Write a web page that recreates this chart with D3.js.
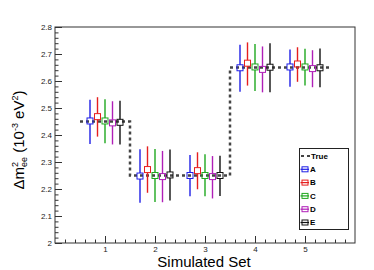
<!DOCTYPE html>
<html>
<head>
<meta charset="utf-8">
<script src="https://cdn.jsdelivr.net/npm/d3@7"></script>
<style>
  body { margin: 0; background: #fff; }
  svg { font-family: "Liberation Sans", Arial, sans-serif; }
</style>
</head>
<body>
<div id="chart"></div>
<script>
// data
var sets = [1, 2, 3, 4, 5];
var trueSteps = [[0.5, 1.5, 2.45], [1.5, 3.5, 2.25], [3.5, 5.5, 2.65]];
var seriesNames = ["A", "B", "C", "D", "E"];

var valA = [2.452, 2.248, 2.250, 2.649, 2.652];
var upA  = [2.531, 2.347, 2.326, 2.734, 2.717];
var lowA = [2.367, 2.149, 2.173, 2.560, 2.579];

var valB = [2.468, 2.272, 2.268, 2.666, 2.663];
var upB  = [2.540, 2.358, 2.336, 2.743, 2.725];
var lowB = [2.394, 2.186, 2.199, 2.583, 2.597];

var valC = [2.452, 2.250, 2.250, 2.652, 2.652];
var upC  = [2.532, 2.348, 2.329, 2.737, 2.719];
var lowC = [2.369, 2.152, 2.173, 2.563, 2.583];

var valD = [2.445, 2.246, 2.246, 2.643, 2.646];
var upD  = [2.525, 2.341, 2.322, 2.728, 2.714];
var lowD = [2.365, 2.151, 2.165, 2.558, 2.577];

var valE = [2.447, 2.252, 2.250, 2.651, 2.649];
var upE  = [2.527, 2.346, 2.323, 2.740, 2.720];
var lowE = [2.365, 2.157, 2.174, 2.558, 2.577];

var yTicks = [2, 2.1, 2.2, 2.3, 2.4, 2.5, 2.6, 2.7, 2.8];
var yTickLabels = ["2", "2.1", "2.2", "2.3", "2.4", "2.5", "2.6", "2.7", "2.8"];
var xTickLabels = ["1", "2", "3", "4", "5"];

// styles
var colors = ["#1f1fe6", "#e61f1f", "#1fa81f", "#b01fb8", "#111111"];
var offsets = [-0.3, -0.15, 0, 0.15, 0.3];

var series = [
  {name: "A", val: valA, up: upA, low: lowA},
  {name: "B", val: valB, up: upB, low: lowB},
  {name: "C", val: valC, up: upC, low: lowC},
  {name: "D", val: valD, up: upD, low: lowD},
  {name: "E", val: valE, up: upE, low: lowE}
];

var W = 374, H = 270;
var plotL = 55, plotR = 355, plotT = 27, plotB = 243;

var svg = d3.select("#chart").append("svg")
    .attr("width", W)
    .attr("height", H);

var x = d3.scaleLinear().domain([0, 6]).range([plotL, plotR]);
var y = d3.scaleLinear().domain([2, 2.8]).range([plotB, plotT]);

// minor ticks
var yMinor = d3.range(2, 2.8001, 0.02).filter(function(v) {
  return Math.abs(v * 10 - Math.round(v * 10)) > 1e-6;
});
var xMinor = d3.range(0.2, 5.9, 0.2).filter(function(v) {
  return Math.abs(v - Math.round(v)) > 1e-6;
});

svg.append("g")
    .attr("transform", "translate(" + plotL + ",0)")
    .call(d3.axisLeft(y).tickValues(yMinor).tickSize(-3.5).tickSizeOuter(0).tickFormat(""))
    .call(function(g) { g.select(".domain").remove(); });

svg.append("g")
    .attr("transform", "translate(0," + plotB + ")")
    .call(d3.axisBottom(x).tickValues(xMinor).tickSize(-3.5).tickSizeOuter(0).tickFormat(""))
    .call(function(g) { g.select(".domain").remove(); });

svg.append("g")
    .attr("transform", "translate(" + plotL + ",0)")
    .call(d3.axisLeft(y).tickValues(yTicks).tickSize(-7).tickSizeOuter(0).tickPadding(3)
      .tickFormat(function(d, i) { return yTickLabels[i]; }))
    .call(function(g) {
      g.select(".domain").remove();
      g.selectAll("text").style("font-size", "8px").attr("fill", "#222");
    });

svg.append("g")
    .attr("transform", "translate(0," + plotB + ")")
    .call(d3.axisBottom(x).tickValues(sets).tickSize(-7).tickSizeOuter(0).tickPadding(3)
      .tickFormat(function(d, i) { return xTickLabels[i]; }))
    .call(function(g) {
      g.select(".domain").remove();
      g.selectAll("text").style("font-size", "8px").attr("fill", "#222");
    });

svg.selectAll(".tick line").attr("stroke", "#333");

// frame
svg.append("rect")
    .attr("x", plotL).attr("y", plotT)
    .attr("width", plotR - plotL).attr("height", plotB - plotT)
    .attr("fill", "none").attr("stroke", "#333").attr("stroke-width", 1);

// true value line
var truePts = [];
trueSteps.forEach(function(s) {
  truePts.push([s[0], s[2]]);
  truePts.push([s[1], s[2]]);
});
svg.append("path")
    .attr("d", d3.line().x(function(d) { return x(d[0]); }).y(function(d) { return y(d[1]); })(truePts))
    .attr("fill", "none")
    .attr("stroke", "#444")
    .attr("stroke-width", 2.5)
    .attr("stroke-dasharray", "3,3");

// error bars and markers
var half = 3;
series.forEach(function(s, si) {
  var g = svg.append("g");
  var pts = sets.map(function(set, i) {
    return {x: x(set + offsets[si]), v: y(s.val[i]), up: y(s.up[i]), low: y(s.low[i])};
  });
  g.selectAll("line.up").data(pts).enter().append("line")
      .attr("x1", function(d) { return d.x; }).attr("x2", function(d) { return d.x; })
      .attr("y1", function(d) { return d.up; }).attr("y2", function(d) { return d.v - half; })
      .attr("stroke", colors[si]).attr("stroke-width", 1.4);
  g.selectAll("line.low").data(pts).enter().append("line")
      .attr("x1", function(d) { return d.x; }).attr("x2", function(d) { return d.x; })
      .attr("y1", function(d) { return d.v + half; }).attr("y2", function(d) { return d.low; })
      .attr("stroke", colors[si]).attr("stroke-width", 1.4);
  g.selectAll("rect").data(pts).enter().append("rect")
      .attr("x", function(d) { return d.x - half; })
      .attr("y", function(d) { return d.v - half; })
      .attr("width", half * 2).attr("height", half * 2)
      .attr("fill", "none").attr("stroke", colors[si]).attr("stroke-width", 1);
});

// legend
var lg = svg.append("g");
lg.append("rect")
    .attr("x", 299.5).attr("y", 148.5).attr("width", 49).attr("height", 81)
    .attr("fill", "#fff").attr("stroke", "#222").attr("stroke-width", 1);

var legendY = function(i) { return 156 + i * 13.3; };
lg.append("line")
    .attr("x1", 301).attr("x2", 310).attr("y1", legendY(0)).attr("y2", legendY(0))
    .attr("stroke", "#444").attr("stroke-width", 2).attr("stroke-dasharray", "3,3");
lg.append("text")
    .attr("x", 311).attr("y", legendY(0)).attr("dy", "0.35em")
    .style("font-size", "8px").style("font-weight", "bold")
    .text("True");

seriesNames.forEach(function(n, i) {
  var cy = legendY(i + 1);
  lg.append("line")
      .attr("x1", 300.5).attr("x2", 309).attr("y1", cy).attr("y2", cy)
      .attr("stroke", colors[i]).attr("stroke-width", 1.2);
  lg.append("rect")
      .attr("x", 302).attr("y", cy - 2.5).attr("width", 6).attr("height", 5)
      .attr("fill", "none").attr("stroke", colors[i]).attr("stroke-width", 1);
  lg.append("text")
      .attr("x", 310).attr("y", cy).attr("dy", "0.35em")
      .style("font-size", "8px").style("font-weight", "bold")
      .text(n);
});

// axis titles
svg.append("text")
    .attr("x", 204).attr("y", 267)
    .attr("text-anchor", "middle")
    .style("font-size", "15px")
    .text("Simulated Set");

var yt = svg.append("text")
    .attr("transform", "translate(24,140) rotate(-90)")
    .attr("text-anchor", "middle")
    .style("font-size", "15px");
yt.append("tspan").text("\u0394m");
yt.append("tspan").attr("dy", -6).style("font-size", "9px").text("2");
yt.append("tspan").attr("dx", -5).attr("dy", 9).style("font-size", "9px").text("ee");
yt.append("tspan").attr("dy", -3).text(" (10");
yt.append("tspan").attr("dy", -6).style("font-size", "9px").text("-3");
yt.append("tspan").attr("dy", 6).text(" eV");
yt.append("tspan").attr("dy", -6).style("font-size", "9px").text("2");
yt.append("tspan").attr("dy", 6).text(")");
</script>
</body>
</html>
